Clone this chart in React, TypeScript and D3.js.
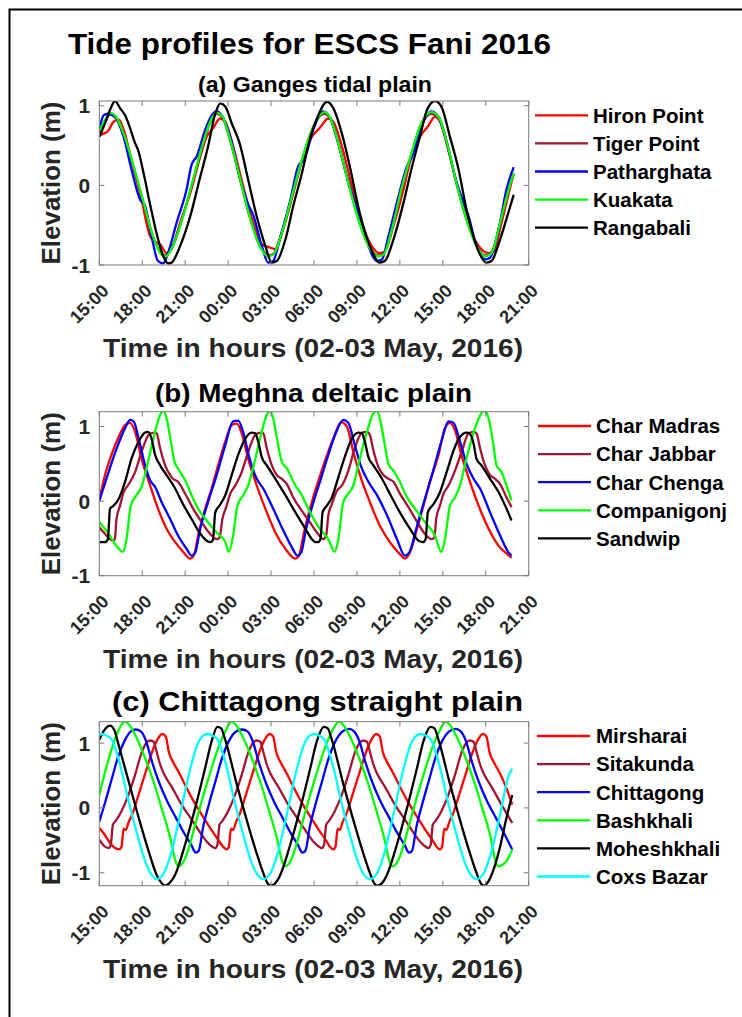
import React from "react"
import * as d3 from "d3"

// Hours since 15:00 on 02 May 2016
const timeTicks = [0, 3, 6, 9, 12, 15, 18, 21, 24, 27, 30]
const timeTickLabels = ["15:00", "18:00", "21:00", "00:00", "03:00", "06:00", "09:00", "12:00", "15:00", "18:00", "21:00"]

// (a) Ganges tidal plain  [hour, elevation m]
const hironPoint = [[0,0.63],[0.3,0.65],[0.6,0.68],[1.0,0.8],[1.35,0.83],[1.7,0.7],[2.25,0.32],[2.95,-0.18],[3.55,-0.64],[3.9,-0.71],[4.25,-0.74],[4.7,-0.85],[5.05,-0.8],[5.65,-0.47],[6.35,-0.1],[7.05,0.36],[7.5,0.61],[7.95,0.72],[8.45,0.84],[8.8,0.8],[9.35,0.49],[10.05,-0.01],[10.75,-0.47],[11.35,-0.74],[11.9,-0.78],[12.3,-0.8],[12.85,-0.55],[13.55,-0.1],[14.25,0.36],[14.85,0.61],[15.4,0.72],[16.0,0.84],[16.35,0.8],[16.95,0.49],[17.65,-0.01],[18.35,-0.47],[18.9,-0.72],[19.6,-0.85],[19.95,-0.83],[20.55,-0.51],[21.25,-0.05],[21.8,0.36],[22.4,0.61],[22.95,0.74],[23.45,0.86],[23.8,0.8],[24.5,0.36],[25.2,-0.14],[25.9,-0.55],[26.5,-0.76],[27.2,-0.85],[27.55,-0.83],[28.1,-0.47],[28.6,-0.1],[28.95,0.15]]
const tigerPoint = [[0,0.66],[0.4,0.8],[0.75,0.89],[1.1,0.86],[1.7,0.63],[2.4,0.22],[3.1,-0.23],[3.75,-0.64],[4.35,-0.86],[4.65,-0.88],[5.15,-0.75],[5.85,-0.38],[6.55,0.06],[7.25,0.52],[7.85,0.83],[8.2,0.9],[8.55,0.87],[9.15,0.56],[9.8,0.1],[10.5,-0.39],[11.2,-0.75],[11.8,-0.88],[12.15,-0.86],[12.75,-0.59],[13.45,-0.14],[14.15,0.31],[14.85,0.69],[15.4,0.87],[15.75,0.9],[16.1,0.85],[16.7,0.52],[17.4,0.03],[18.1,-0.42],[18.8,-0.75],[19.5,-0.88],[19.85,-0.86],[20.45,-0.54],[21.1,-0.05],[21.8,0.39],[22.5,0.77],[23.2,0.9],[23.7,0.85],[24.3,0.52],[24.95,0.03],[25.65,-0.42],[26.35,-0.75],[26.95,-0.88],[27.4,-0.84],[28.0,-0.47],[28.6,-0.05],[28.95,0.14]]
const patharghata = [[0,0.7],[0.3,0.88],[0.6,0.9],[1.1,0.86],[1.7,0.61],[2.25,0.2],[2.85,-0.18],[3.2,-0.26],[3.65,-0.64],[4.1,-0.95],[4.45,-0.98],[4.8,-0.85],[5.4,-0.47],[6.1,-0.05],[6.45,0.26],[6.8,0.36],[7.4,0.7],[7.85,0.88],[8.2,0.93],[8.55,0.88],[9.15,0.61],[9.8,0.11],[10.4,-0.24],[10.75,-0.37],[11.35,-0.76],[11.8,-0.97],[12.15,-0.95],[12.6,-0.68],[13.3,-0.22],[13.9,0.24],[14.35,0.34],[14.95,0.7],[15.65,0.93],[16.1,0.86],[16.7,0.53],[17.3,0.11],[17.85,-0.22],[18.2,-0.39],[18.8,-0.76],[19.4,-0.95],[19.75,-0.93],[20.2,-0.64],[20.9,-0.14],[21.5,0.24],[21.8,0.34],[22.5,0.74],[23.2,0.93],[23.7,0.86],[24.3,0.53],[24.85,0.11],[25.45,-0.22],[25.8,-0.39],[26.35,-0.76],[26.95,-0.93],[27.3,-0.91],[27.9,-0.55],[28.45,-0.05],[28.95,0.23]]
const kuakata = [[0,0.68],[0.4,0.82],[0.75,0.91],[1.1,0.88],[1.7,0.65],[2.4,0.24],[3.1,-0.22],[3.75,-0.64],[4.35,-0.87],[4.65,-0.89],[5.15,-0.76],[5.85,-0.39],[6.55,0.07],[7.25,0.53],[7.85,0.84],[8.2,0.91],[8.55,0.88],[9.15,0.57],[9.8,0.11],[10.5,-0.39],[11.2,-0.76],[11.8,-0.89],[12.15,-0.87],[12.75,-0.6],[13.45,-0.14],[14.15,0.32],[14.85,0.7],[15.4,0.88],[15.75,0.92],[16.1,0.86],[16.7,0.53],[17.4,0.03],[18.1,-0.43],[18.8,-0.76],[19.5,-0.89],[19.85,-0.87],[20.45,-0.55],[21.1,-0.05],[21.8,0.4],[22.5,0.78],[23.2,0.92],[23.7,0.86],[24.3,0.53],[24.95,0.03],[25.65,-0.43],[26.35,-0.76],[26.95,-0.89],[27.4,-0.85],[28.0,-0.47],[28.6,-0.05],[28.95,0.15]]
const rangabali = [[0,0.61],[0.4,0.78],[0.75,0.95],[1.1,1.06],[1.45,0.97],[1.8,0.88],[2.15,0.72],[2.5,0.53],[2.7,0.45],[3.1,0.15],[3.55,-0.24],[4.0,-0.6],[4.47,-0.89],[4.82,-0.98],[5.05,-0.97],[5.65,-0.76],[6.35,-0.39],[7.0,0.07],[7.6,0.49],[8.1,0.9],[8.45,1.03],[8.8,0.99],[9.25,0.78],[9.8,0.53],[10.4,0.07],[11.0,-0.39],[11.6,-0.76],[12.05,-0.97],[12.4,-0.95],[13.0,-0.68],[13.55,-0.26],[14.15,0.15],[14.7,0.57],[15.3,0.88],[15.9,1.05],[16.35,0.97],[16.95,0.65],[17.5,0.24],[18.2,-0.35],[18.9,-0.76],[19.6,-0.97],[19.95,-0.95],[20.55,-0.68],[21.25,-0.22],[21.8,0.2],[22.4,0.61],[22.9,0.95],[23.45,1.06],[23.9,0.99],[24.5,0.61],[25.1,0.2],[25.65,-0.3],[26.35,-0.76],[27.05,-0.97],[27.4,-0.95],[28.0,-0.68],[28.5,-0.39],[28.95,-0.12]]

// (b) Meghna deltaic plain
const charMadras = [[0,0.02],[0.4,0.35],[0.85,0.62],[1.35,0.86],[1.8,1.02],[2.15,1.05],[2.5,0.93],[2.95,0.57],[3.55,0.21],[4.1,-0.1],[4.7,-0.37],[5.3,-0.55],[5.9,-0.69],[6.35,-0.77],[6.6,-0.73],[6.95,-0.42],[7.4,-0.1],[7.85,0.17],[8.3,0.48],[8.8,0.8],[9.25,1.02],[9.6,1.04],[9.95,0.91],[10.4,0.57],[11.0,0.21],[11.6,-0.1],[12.3,-0.42],[13.0,-0.64],[13.7,-0.77],[13.95,-0.73],[14.3,-0.42],[14.75,-0.08],[15.2,0.21],[15.75,0.53],[16.35,0.84],[16.9,1.06],[17.3,1.0],[17.75,0.66],[18.3,0.3],[18.9,-0.01],[19.6,-0.33],[20.3,-0.55],[21.0,-0.71],[21.35,-0.77],[21.7,-0.69],[22.2,-0.37],[22.65,-0.06],[23.1,0.26],[23.7,0.62],[24.15,0.98],[24.5,1.05],[24.85,0.95],[25.3,0.62],[25.9,0.26],[26.5,-0.06],[27.2,-0.37],[27.9,-0.6],[28.5,-0.71],[28.8,-0.76]]
const charJabbar = [[0,-0.35],[0.4,-0.44],[0.75,-0.51],[1.0,-0.53],[1.1,-0.49],[1.2,-0.24],[1.45,-0.06],[1.7,0.12],[2.0,0.21],[2.5,0.39],[2.95,0.66],[3.45,0.89],[3.8,0.92],[4.0,0.91],[4.25,0.71],[4.6,0.48],[4.95,0.35],[5.15,0.3],[5.5,0.26],[6.0,0.1],[6.55,-0.1],[7.15,-0.28],[7.75,-0.44],[8.2,-0.51],[8.4,-0.49],[8.6,-0.24],[8.9,-0.06],[9.15,0.1],[9.5,0.21],[9.95,0.39],[10.4,0.66],[10.9,0.89],[11.25,0.92],[11.45,0.91],[11.7,0.71],[12.05,0.48],[12.4,0.35],[12.75,0.3],[13.1,0.23],[13.55,0.05],[14.15,-0.13],[14.7,-0.28],[15.2,-0.42],[15.65,-0.51],[15.85,-0.46],[16.0,-0.19],[16.25,-0.04],[16.6,0.14],[16.95,0.21],[17.4,0.41],[17.85,0.71],[18.35,0.92],[18.7,0.93],[18.9,0.89],[19.15,0.68],[19.5,0.46],[19.85,0.35],[20.2,0.3],[20.55,0.26],[21.0,0.1],[21.6,-0.08],[22.15,-0.26],[22.75,-0.44],[23.2,-0.51],[23.4,-0.49],[23.55,-0.22],[23.8,-0.06],[24.05,0.1],[24.4,0.21],[24.85,0.41],[25.35,0.68],[25.8,0.91],[26.15,0.93],[26.35,0.91],[26.6,0.71],[26.95,0.48],[27.3,0.35],[27.65,0.3],[28.0,0.23],[28.45,0.05],[28.8,-0.08]]
const charChenga = [[0,0.0],[0.65,0.39],[1.2,0.7],[1.8,0.98],[2.15,1.09],[2.4,1.07],[2.75,0.84],[3.2,0.48],[3.55,0.28],[3.9,0.19],[4.35,-0.01],[4.95,-0.24],[5.5,-0.46],[6.1,-0.64],[6.45,-0.73],[6.7,-0.69],[7.05,-0.37],[7.6,-0.01],[8.2,0.35],[8.8,0.75],[9.35,1.07],[9.7,1.08],[10.05,0.93],[10.5,0.57],[11.0,0.3],[11.45,0.17],[12.05,-0.06],[12.7,-0.33],[13.4,-0.6],[13.85,-0.73],[14.1,-0.69],[14.45,-0.37],[14.95,-0.02],[15.4,0.25],[15.9,0.56],[16.5,0.9],[17.05,1.09],[17.4,1.05],[17.85,0.75],[18.3,0.46],[18.8,0.26],[19.4,0.08],[20.1,-0.19],[20.8,-0.51],[21.35,-0.73],[21.65,-0.69],[22.2,-0.33],[22.75,0.03],[23.3,0.39],[23.9,0.8],[24.4,1.07],[24.75,1.05],[25.2,0.8],[25.7,0.48],[26.15,0.3],[26.6,0.17],[27.3,-0.15],[28.0,-0.46],[28.6,-0.69],[28.8,-0.73]]
const companigonj = [[0,-0.28],[0.65,-0.44],[1.2,-0.6],[1.65,-0.68],[1.9,-0.51],[2.2,-0.06],[2.6,0.08],[2.95,0.19],[3.45,0.57],[3.9,0.93],[4.25,1.16],[4.5,1.21],[4.7,1.11],[5.0,0.8],[5.25,0.53],[5.5,0.44],[6.0,0.28],[6.45,0.08],[6.9,-0.1],[7.5,-0.26],[8.2,-0.42],[8.8,-0.55],[9.05,-0.68],[9.35,-0.46],[9.65,-0.06],[10.05,0.08],[10.4,0.21],[10.9,0.57],[11.35,0.93],[11.7,1.16],[11.95,1.21],[12.15,1.11],[12.45,0.8],[12.75,0.53],[13.1,0.44],[13.7,0.21],[14.15,0.08],[14.6,-0.1],[15.4,-0.37],[16.0,-0.51],[16.45,-0.68],[16.7,-0.51],[17.05,-0.01],[17.4,0.1],[17.75,0.21],[18.2,0.57],[18.7,0.93],[19.15,1.18],[19.4,1.21],[19.6,1.11],[19.95,0.75],[20.2,0.5],[20.55,0.41],[21.0,0.26],[21.5,0.05],[22.05,-0.1],[22.75,-0.28],[23.45,-0.46],[23.9,-0.68],[24.15,-0.51],[24.5,-0.06],[24.85,0.05],[25.2,0.21],[25.65,0.57],[26.25,0.98],[26.7,1.18],[26.95,1.21],[27.2,1.11],[27.5,0.8],[27.75,0.48],[28.1,0.39],[28.45,0.21],[28.8,0.01]]
const sandwip = [[0,-0.55],[0.4,-0.55],[0.6,-0.51],[0.75,-0.1],[1.0,-0.06],[1.35,0.03],[1.8,0.26],[2.25,0.57],[2.75,0.8],[3.2,0.92],[3.4,0.93],[3.65,0.84],[3.9,0.62],[4.25,0.48],[4.7,0.35],[5.3,0.17],[5.85,-0.04],[6.45,-0.24],[7.0,-0.42],[7.5,-0.53],[7.8,-0.55],[7.95,-0.51],[8.1,-0.15],[8.4,-0.06],[8.8,0.08],[9.25,0.35],[9.7,0.62],[10.2,0.84],[10.65,0.92],[10.9,0.91],[11.1,0.8],[11.35,0.59],[11.7,0.48],[12.3,0.3],[13.0,0.08],[13.7,-0.15],[14.4,-0.37],[14.85,-0.51],[15.1,-0.55],[15.3,-0.55],[15.45,-0.51],[15.6,-0.15],[15.9,-0.06],[16.25,0.05],[16.7,0.32],[17.2,0.62],[17.65,0.84],[18.1,0.92],[18.35,0.91],[18.55,0.8],[18.8,0.59],[19.15,0.48],[19.75,0.3],[20.3,0.1],[21.0,-0.15],[21.7,-0.37],[22.3,-0.53],[22.6,-0.55],[22.8,-0.51],[22.95,-0.15],[23.35,-0.04],[23.8,0.12],[24.3,0.41],[24.75,0.68],[25.2,0.86],[25.65,0.92],[25.85,0.91],[26.15,0.77],[26.35,0.57],[26.7,0.48],[27.3,0.3],[27.9,0.12],[28.45,-0.1],[28.8,-0.26]]

// (c) Chittagong straight plain
const mirsharai = [[0,-0.31],[0.3,-0.39],[0.75,-0.54],[1.1,-0.62],[1.4,-0.64],[1.55,-0.6],[1.7,-0.32],[1.85,-0.34],[2.05,-0.22],[2.3,-0.1],[2.75,0.21],[3.25,0.56],[3.7,0.87],[4.05,1.05],[4.4,1.14],[4.65,1.1],[4.85,0.87],[5.2,0.69],[5.55,0.55],[6.05,0.33],[6.6,0.1],[7.2,-0.12],[7.75,-0.31],[8.3,-0.49],[8.75,-0.62],[8.9,-0.64],[9.05,-0.6],[9.2,-0.32],[9.35,-0.34],[9.55,-0.22],[9.8,-0.1],[10.25,0.21],[10.75,0.56],[11.2,0.87],[11.55,1.05],[11.9,1.14],[12.15,1.1],[12.35,0.87],[12.7,0.69],[13.05,0.55],[13.55,0.33],[14.1,0.1],[14.7,-0.12],[15.25,-0.31],[15.8,-0.49],[16.2,-0.62],[16.35,-0.64],[16.5,-0.6],[16.65,-0.32],[16.8,-0.34],[17.0,-0.22],[17.25,-0.1],[17.7,0.21],[18.2,0.56],[18.65,0.87],[19.0,1.05],[19.35,1.14],[19.6,1.1],[19.8,0.87],[20.15,0.69],[20.5,0.55],[21.0,0.33],[21.55,0.1],[22.15,-0.12],[22.7,-0.31],[23.25,-0.49],[23.65,-0.62],[23.8,-0.64],[23.95,-0.6],[24.1,-0.32],[24.25,-0.34],[24.45,-0.22],[24.7,-0.1],[25.15,0.21],[25.65,0.56],[26.1,0.87],[26.45,1.05],[26.8,1.14],[27.05,1.1],[27.25,0.87],[27.6,0.69],[27.95,0.55],[28.45,0.3],[28.85,0.05]]
const sitakunda = [[0,-0.49],[0.3,-0.58],[0.65,-0.62],[0.8,-0.57],[0.95,-0.26],[1.15,-0.2],[1.55,-0.05],[2.05,0.21],[2.5,0.51],[2.95,0.85],[3.35,1.02],[3.55,1.04],[3.8,1.02],[4.0,0.87],[4.25,0.67],[4.55,0.51],[5.1,0.31],[5.75,0.05],[6.45,-0.18],[7.05,-0.38],[7.55,-0.53],[7.9,-0.6],[8.1,-0.62],[8.25,-0.57],[8.4,-0.26],[8.6,-0.2],[9.0,-0.05],[9.5,0.21],[9.95,0.51],[10.4,0.85],[10.8,1.02],[11.0,1.04],[11.25,1.02],[11.45,0.87],[11.7,0.67],[12.0,0.51],[12.55,0.31],[13.2,0.05],[13.9,-0.18],[14.5,-0.38],[15.0,-0.53],[15.35,-0.6],[15.55,-0.62],[15.7,-0.57],[15.85,-0.26],[16.05,-0.2],[16.45,-0.05],[16.95,0.21],[17.4,0.51],[17.85,0.85],[18.25,1.02],[18.45,1.04],[18.7,1.02],[18.9,0.87],[19.15,0.67],[19.45,0.51],[20.0,0.31],[20.65,0.05],[21.35,-0.18],[21.95,-0.38],[22.45,-0.53],[22.8,-0.6],[23.0,-0.62],[23.15,-0.57],[23.3,-0.26],[23.5,-0.2],[23.9,-0.05],[24.4,0.21],[24.85,0.51],[25.3,0.85],[25.7,1.02],[25.9,1.04],[26.15,1.02],[26.35,0.87],[26.6,0.67],[26.9,0.51],[27.45,0.31],[28.1,0.05],[28.85,-0.23]]
const chittagong = [[0,-0.21],[0.4,0.08],[0.85,0.43],[1.3,0.78],[1.8,1.05],[2.2,1.18],[2.55,1.21],[2.9,1.18],[3.25,1.04],[3.7,0.7],[4.2,0.38],[4.75,0.1],[5.35,-0.15],[5.9,-0.38],[6.4,-0.56],[6.75,-0.69],[6.95,-0.66],[7.25,-0.3],[7.65,0.05],[8.1,0.4],[8.55,0.75],[9.05,1.03],[9.55,1.18],[10.0,1.21],[10.35,1.18],[10.7,1.04],[11.15,0.7],[11.65,0.38],[12.2,0.1],[12.8,-0.15],[13.35,-0.38],[13.85,-0.56],[14.2,-0.69],[14.4,-0.66],[14.7,-0.3],[15.1,0.05],[15.55,0.4],[16.0,0.75],[16.5,1.03],[17.0,1.18],[17.45,1.22],[17.8,1.18],[18.15,1.04],[18.6,0.7],[19.1,0.38],[19.65,0.1],[20.25,-0.15],[20.8,-0.38],[21.3,-0.56],[21.65,-0.69],[21.85,-0.66],[22.15,-0.3],[22.55,0.05],[23.0,0.4],[23.45,0.75],[23.95,1.03],[24.45,1.18],[24.9,1.22],[25.25,1.18],[25.6,1.04],[26.05,0.7],[26.55,0.38],[27.1,0.1],[27.7,-0.15],[28.25,-0.38],[28.85,-0.64]]
const bashkhali = [[0,0.2],[0.4,0.55],[0.85,0.9],[1.3,1.18],[1.8,1.33],[2.1,1.28],[2.5,1.13],[3.2,0.77],[3.9,0.33],[4.35,0.0],[4.95,-0.46],[5.3,-0.8],[5.5,-0.9],[5.8,-0.86],[6.1,-0.72],[6.7,-0.26],[7.15,0.1],[7.7,0.51],[8.3,0.92],[8.8,1.18],[9.25,1.33],[9.55,1.28],[9.95,1.13],[10.65,0.77],[11.35,0.33],[11.8,0.0],[12.4,-0.46],[12.75,-0.8],[12.95,-0.9],[13.25,-0.86],[13.55,-0.72],[14.15,-0.26],[14.6,0.1],[15.15,0.51],[15.75,0.92],[16.25,1.18],[16.75,1.33],[17.05,1.28],[17.45,1.13],[18.15,0.77],[18.85,0.33],[19.3,0.0],[19.9,-0.46],[20.25,-0.8],[20.45,-0.9],[20.75,-0.86],[21.05,-0.72],[21.65,-0.26],[22.1,0.1],[22.65,0.51],[23.25,0.92],[23.75,1.18],[24.2,1.33],[24.5,1.28],[24.9,1.13],[25.6,0.77],[26.3,0.33],[26.75,0.0],[27.35,-0.46],[27.65,-0.8],[27.85,-0.9],[28.15,-0.88],[28.45,-0.82],[28.7,-0.72],[28.85,-0.64]]
const moheshkhali = [[0,1.05],[0.35,1.2],[0.75,1.27],[1.05,1.2],[1.35,0.97],[2.05,0.41],[2.75,-0.15],[3.45,-0.67],[4.0,-1.03],[4.35,-1.16],[4.6,-1.2],[4.9,-1.16],[5.3,-1.03],[6.0,-0.56],[6.7,0.0],[7.4,0.62],[7.85,1.03],[8.25,1.25],[8.5,1.23],[8.8,1.05],[9.55,0.41],[10.25,-0.15],[10.95,-0.67],[11.5,-1.03],[11.75,-1.16],[11.95,-1.2],[12.3,-1.16],[12.65,-1.03],[13.35,-0.56],[14.05,0.0],[14.75,0.62],[15.2,1.03],[15.7,1.25],[15.95,1.23],[16.25,1.05],[17.0,0.41],[17.7,-0.15],[18.4,-0.67],[18.95,-1.03],[19.2,-1.16],[19.4,-1.2],[19.75,-1.16],[20.1,-1.03],[20.8,-0.56],[21.5,0.0],[22.2,0.62],[22.65,1.03],[23.15,1.25],[23.4,1.23],[23.7,1.05],[24.45,0.41],[25.15,-0.15],[25.85,-0.67],[26.4,-1.03],[26.65,-1.16],[26.85,-1.2],[27.2,-1.13],[27.55,-0.95],[28.0,-0.6],[28.45,-0.15],[28.85,0.2]]
const coxsBazar = [[0,1.12],[0.2,1.14],[0.55,1.11],[0.85,1.06],[1.45,0.67],[2.05,0.1],[2.65,-0.41],[3.2,-0.82],[3.65,-1.03],[4.0,-1.1],[4.45,-1.03],[5.05,-0.67],[5.65,-0.1],[6.25,0.51],[6.9,1.0],[7.3,1.12],[7.6,1.14],[7.95,1.11],[8.25,1.06],[8.85,0.67],[9.45,0.1],[10.05,-0.41],[10.6,-0.82],[11.05,-1.03],[11.45,-1.1],[11.9,-1.03],[12.5,-0.67],[13.1,-0.1],[13.7,0.51],[14.35,1.0],[14.75,1.12],[15.05,1.14],[15.4,1.11],[15.7,1.06],[16.3,0.67],[16.9,0.1],[17.5,-0.41],[18.05,-0.82],[18.5,-1.03],[18.9,-1.1],[19.35,-1.03],[19.95,-0.67],[20.55,-0.1],[21.15,0.51],[21.8,1.0],[22.2,1.12],[22.5,1.14],[22.85,1.11],[23.15,1.06],[23.75,0.67],[24.35,0.1],[24.95,-0.41],[25.5,-0.82],[25.95,-1.03],[26.35,-1.1],[26.8,-1.03],[27.4,-0.67],[28.0,-0.1],[28.6,0.5],[28.85,0.6]]

const gangesNames = ["Hiron Point", "Tiger Point", "Patharghata", "Kuakata", "Rangabali"]
const meghnaNames = ["Char Madras", "Char Jabbar", "Char Chenga", "Companigonj", "Sandwip"]
const chittagongNames = ["Mirsharai", "Sitakunda", "Chittagong", "Bashkhali", "Moheshkhali", "Coxs Bazar"]
const lineColors = ["#ff0000", "#a2142f", "#0000ff", "#00ff00", "#000000", "#00ffff"]

const panels = [
  { key: "a", title: "(a) Ganges tidal plain", yDomain: [-1, 1.06], yTicks: [-1, 0, 1], names: gangesNames,
    data: [hironPoint, tigerPoint, patharghata, kuakata, rangabali] },
  { key: "b", title: "(b) Meghna deltaic plain", yDomain: [-1, 1.2], yTicks: [-1, 0, 1], names: meghnaNames,
    data: [charMadras, charJabbar, charChenga, companigonj, sandwip] },
  { key: "c", title: "(c) Chittagong straight plain", yDomain: [-1.2, 1.33], yTicks: [-1, 0, 1], names: chittagongNames,
    data: [mirsharai, sitakunda, chittagong, bashkhali, moheshkhali, coxsBazar] },
]

// layout
const W = 742, H = 1017
const left = 99.3, right = 528.7, plotH = 164
const tops = [101, 411.7, 721.7]
const titleBox = [
  { x: 198, y: 91.5, len: 234, size: 22 },
  { x: 155, y: 402, len: 317, size: 26 },
  { x: 112, y: 711, len: 411, size: 27 },
]
const legendX = [[535, 588, 593], [538, 591, 596], [537, 590, 596]]
const font = "'Liberation Sans', Arial, Helvetica, sans-serif"
const axisColor = "#262626"

const Panel = ({ p, i }) => {
  const top = tops[i]
  const bottom = top + plotH
  const x = d3.scaleLinear().domain([0, 30]).range([left, right])
  const y = d3.scaleLinear().domain(p.yDomain).range([bottom, top])
  const line = d3.line().x(d => x(d[0])).y(d => y(d[1])).curve(d3.curveMonotoneX)
  const tb = titleBox[i]
  const [lx1, lx2, tx] = legendX[i]
  const tick = 5

  return (
    <g>
      <defs>
        <clipPath id={`clip-${p.key}`}>
          <rect x={left} y={top} width={right - left} height={plotH} />
        </clipPath>
      </defs>
      <rect x={left} y={top} width={right - left} height={plotH} fill="#fff" />

      <g clipPath={`url(#clip-${p.key})`}>
        {p.data.map((d, k) => (
          <path key={k} d={line(d)} fill="none" stroke={lineColors[k]} strokeWidth={2.3} strokeLinejoin="round" />
        ))}
      </g>

      {/* box and ticks */}
      <rect x={left} y={top} width={right - left} height={plotH} fill="none" stroke="#7a7a7a" strokeWidth={1} />
      {timeTicks.map(t => (
        <g key={t} stroke="#7a7a7a" strokeWidth={1}>
          <line x1={x(t)} x2={x(t)} y1={bottom} y2={bottom - tick} />
          <line x1={x(t)} x2={x(t)} y1={top} y2={top + tick} />
        </g>
      ))}
      {p.yTicks.map(v => (
        <g key={v} stroke="#7a7a7a" strokeWidth={1}>
          <line x1={left} x2={left + tick} y1={y(v)} y2={y(v)} />
          <line x1={right} x2={right - tick} y1={y(v)} y2={y(v)} />
        </g>
      ))}

      {/* tick labels */}
      {timeTicks.map((t, k) => (
        <text key={t} transform={`translate(${x(t) + 10.5},${bottom + 27}) rotate(-45)`} textAnchor="end"
          fontFamily={font} fontWeight="bold" fontSize={18} fill={axisColor}>{timeTickLabels[k]}</text>
      ))}
      {p.yTicks.map(v => (
        <text key={v} x={left - 9} y={y(v)} dy="0.36em" textAnchor="end"
          fontFamily={font} fontWeight="bold" fontSize={21} fill={axisColor}>{v}</text>
      ))}

      {/* axis labels and title */}
      <text transform={`translate(60,${top + plotH / 2}) rotate(-90)`} textAnchor="middle"
        fontFamily={font} fontWeight="bold" fontSize={25} fill={axisColor}
        textLength={163} lengthAdjust="spacingAndGlyphs">Elevation (m)</text>
      <text x={103} y={bottom + 92} fontFamily={font} fontWeight="bold" fontSize={25} fill={axisColor}
        textLength={420} lengthAdjust="spacingAndGlyphs">Time in hours (02-03 May, 2016)</text>
      <text x={tb.x} y={tb.y} fontFamily={font} fontWeight="bold" fontSize={tb.size} fill="#000"
        textLength={tb.len} lengthAdjust="spacingAndGlyphs">{p.title}</text>

      {/* legend */}
      {p.names.map((n, k) => {
        const ly = top + 14.3 + k * 28.1
        return (
          <g key={n}>
            <line x1={lx1} x2={lx2} y1={ly} y2={ly} stroke={lineColors[k]} strokeWidth={2.3} />
            <text x={tx} y={ly} dy="0.36em" fontFamily={font} fontWeight="bold" fontSize={20.5} fill="#000">{n}</text>
          </g>
        )
      })}
    </g>
  )
}

export default function App() {
  return (
    <svg width={W} height={H} style={{ position: "absolute", left: 0, top: 0, background: "#fff" }}>
      <rect x={0} y={0} width={W} height={H} fill="#fff" />
      <rect x={9.5} y={9.5} width={W + 20} height={H + 20} fill="none" stroke="#000" strokeWidth={2} />
      <text x={68} y={54} fontFamily={font} fontWeight="bold" fontSize={30} fill="#000"
        textLength={483} lengthAdjust="spacingAndGlyphs">Tide profiles for ESCS Fani 2016</text>
      {panels.map((p, i) => <Panel key={p.key} p={p} i={i} />)}
    </svg>
  )
}
